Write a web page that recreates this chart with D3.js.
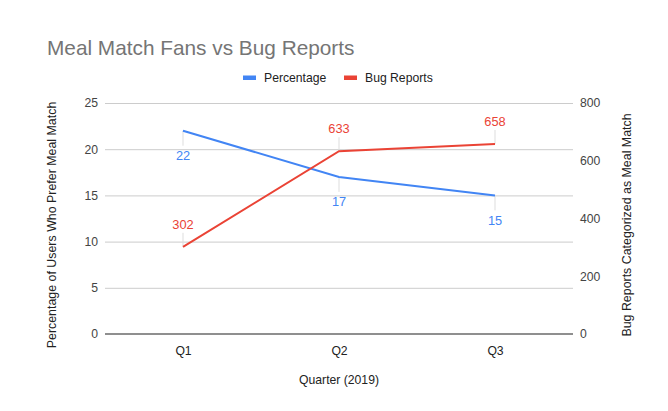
<!DOCTYPE html>
<html>
<head>
<meta charset="utf-8">
<script src="https://cdn.jsdelivr.net/npm/d3@7"></script>
<style>
  html, body { margin: 0; padding: 0; background: #fff; }
  svg { display: block; font-family: Arial, "Liberation Sans", sans-serif; }
</style>
</head>
<body>
<svg id="chart" width="668" height="411"></svg>
<script>
const categories = ["Q1", "Q2", "Q3"];
const percentage = [22, 17, 15];
const bugReports = [302, 633, 658];
const leftTicks = [0, 5, 10, 15, 20, 25];
const rightTicks = [0, 200, 400, 600, 800];
const seriesNames = ["Percentage", "Bug Reports"];

const W = 668, H = 411;
const m = { left: 105, right: 573, top: 103, bottom: 334 };
const blue = "#4285F4", red = "#EA4335";

const svg = d3.select("#chart");

const x = d3.scalePoint().domain(categories).range([m.left, m.right]).padding(0.5);
const yL = d3.scaleLinear().domain([0, 25]).range([m.bottom, m.top]);
const yR = d3.scaleLinear().domain([0, 800]).range([m.bottom, m.top]);

// title
svg.append("text").attr("x", 47).attr("y", 55)
  .attr("font-size", 20.8).attr("fill", "#757575")
  .text("Meal Match Fans vs Bug Reports");

// legend
const legend = [
  { name: seriesNames[0], color: blue, x: 243 },
  { name: seriesNames[1], color: red, x: 344 }
];
legend.forEach(l => {
  svg.append("rect").attr("x", l.x).attr("y", 75.5).attr("width", 13).attr("height", 4.5).attr("fill", l.color);
  svg.append("text").attr("x", l.x + 21).attr("y", 82).attr("font-size", 12.2).attr("fill", "#222").text(l.name);
});

// gridlines via left axis
const gridAxis = d3.axisLeft(yL).tickValues(leftTicks).tickSize(-(m.right - m.left)).tickFormat("");
const g = svg.append("g").attr("transform", `translate(${m.left},0)`).call(gridAxis);
g.select(".domain").remove();
g.selectAll(".tick line").attr("stroke", "#cccccc").attr("stroke-width", 1);

// left tick labels
const la = d3.axisLeft(yL).tickValues(leftTicks).tickSize(0).tickPadding(7);
const lg = svg.append("g").attr("transform", `translate(${m.left},0)`).call(la);
lg.select(".domain").remove();
lg.selectAll("text").attr("font-size", 12.2).attr("fill", "#444").attr("font-family", "Arial, 'Liberation Sans', sans-serif");

// right tick labels
const ra = d3.axisRight(yR).tickValues(rightTicks).tickSize(0).tickPadding(7);
const rg = svg.append("g").attr("transform", `translate(${m.right},0)`).call(ra);
rg.select(".domain").remove();
rg.selectAll("text").attr("font-size", 12.2).attr("fill", "#444").attr("font-family", "Arial, 'Liberation Sans', sans-serif");

// baseline
svg.append("line").attr("x1", m.left).attr("x2", m.right)
  .attr("y1", yL(0)).attr("y2", yL(0)).attr("stroke", "#8f8f8f").attr("stroke-width", 2);

// x axis labels
const xa = d3.axisBottom(x).tickSize(0).tickPadding(12);
const xg = svg.append("g").attr("transform", `translate(0,${m.bottom})`).call(xa);
xg.select(".domain").remove();
xg.selectAll("text").attr("font-size", 12.2).attr("fill", "#222").attr("font-family", "Arial, 'Liberation Sans', sans-serif");

// axis titles
svg.append("text").attr("x", x("Q2")).attr("y", 384).attr("text-anchor", "middle")
  .attr("font-size", 12.2).attr("fill", "#222").text("Quarter (2019)");
svg.append("text").attr("transform", "translate(56,225) rotate(-90)").attr("text-anchor", "middle")
  .attr("font-size", 12.4).attr("fill", "#222").text("Percentage of Users Who Prefer Meal Match");
svg.append("text").attr("transform", "translate(631,225) rotate(-90)").attr("text-anchor", "middle")
  .attr("font-size", 12.4).attr("fill", "#222").text("Bug Reports Categorized as Meal Match");

// stems
const pData = categories.map((c, i) => ({ c, v: percentage[i] }));
const bData = categories.map((c, i) => ({ c, v: bugReports[i] }));
svg.selectAll(".stemP").data(pData).enter().append("line")
  .attr("x1", d => x(d.c)).attr("x2", d => x(d.c))
  .attr("y1", d => yL(d.v)).attr("y2", d => yL(d.v) + 15)
  .attr("stroke", "#dddddd").attr("stroke-width", 1);
svg.selectAll(".stemB").data(bData).enter().append("line")
  .attr("x1", d => x(d.c)).attr("x2", d => x(d.c))
  .attr("y1", d => yR(d.v)).attr("y2", d => yR(d.v) - 14)
  .attr("stroke", "#dddddd").attr("stroke-width", 1);

// lines
const lineP = d3.line().x(d => x(d.c)).y(d => yL(d.v));
const lineB = d3.line().x(d => x(d.c)).y(d => yR(d.v));
svg.append("path").datum(pData).attr("d", lineP).attr("fill", "none").attr("stroke", blue).attr("stroke-width", 2);
svg.append("path").datum(bData).attr("d", lineB).attr("fill", "none").attr("stroke", red).attr("stroke-width", 2);

// data labels
svg.selectAll(".lblP").data(pData).enter().append("text")
  .attr("x", d => x(d.c)).attr("y", d => yL(d.v) + 29.5)
  .attr("text-anchor", "middle").attr("font-size", 12.8).attr("fill", blue).text(d => d.v);
svg.selectAll(".lblB").data(bData).enter().append("text")
  .attr("x", d => x(d.c)).attr("y", d => yR(d.v) - 18)
  .attr("text-anchor", "middle").attr("font-size", 12.8).attr("fill", red).text(d => d.v);
</script>
</body>
</html>
